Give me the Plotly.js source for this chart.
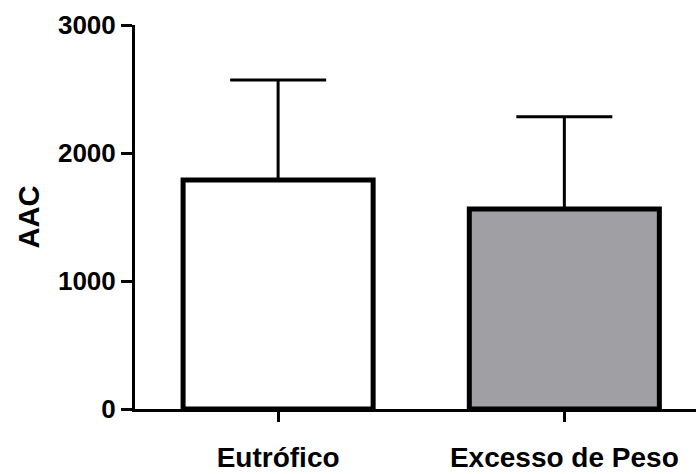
<!DOCTYPE html>
<html>
<head>
<meta charset="utf-8">
<script src="https://cdn.plot.ly/plotly-3.0.1.min.js"></script>
<style>html,body{margin:0;padding:0;background:#fff;}#chart{width:696px;height:474px;}</style>
</head>
<body>
<div id="chart"></div>
<script>
const categories = ["Eutrófico", "Excesso de Peso"];
const means = [1789, 1562];
const sdUpper = [781, 721];
const barColors = ["#ffffff", "#a09fa4"];
const yTickVals = [0, 1000, 2000, 3000];
const yTickText = ["0", "1000", "2000", "3000"];

const fontFam = "Liberation Sans, Arial, Helvetica, sans-serif";

const trace = {
  type: "bar",
  x: categories,
  y: means,
  marker: { color: barColors, line: { color: "#000", width: 5 } },
  error_y: {
    type: "data",
    symmetric: false,
    array: sdUpper,
    arrayminus: [0, 0],
    color: "#000",
    thickness: 3,
    width: 48
  },
  hoverinfo: "none"
};

const layout = {
  width: 696,
  height: 474,
  margin: { l: 135, r: 0, t: 25, b: 65 },
  paper_bgcolor: "#fff",
  plot_bgcolor: "#fff",
  showlegend: false,
  bargap: 0.336,
  font: { family: fontFam, color: "#000" },
  xaxis: {
    type: "category",
    range: [-0.5, 1.46],
    showline: true,
    linecolor: "#000",
    linewidth: 3,
    ticks: "outside",
    ticklen: 10,
    tickwidth: 3,
    tickcolor: "#000",
    showgrid: false,
    zeroline: false,
    ticklabelstandoff: 11,
    tickfont: { family: fontFam, size: 28, weight: "bold", color: "#000" }
  },
  yaxis: {
    range: [0, 3000],
    tickvals: yTickVals,
    ticktext: yTickText,
    showline: true,
    linecolor: "#000",
    linewidth: 3,
    ticks: "outside",
    ticklen: 11,
    tickwidth: 3,
    tickcolor: "#000",
    showgrid: false,
    zeroline: false,
    ticklabelstandoff: 0,
    tickfont: { family: fontFam, size: 26, weight: "bold", color: "#000" },
    title: { text: "AAC", standoff: 10, font: { family: fontFam, size: 29, weight: "bold", color: "#000" } }
  }
};

Plotly.newPlot("chart", [trace], layout, { displayModeBar: false, staticPlot: true });
</script>
</body>
</html>
